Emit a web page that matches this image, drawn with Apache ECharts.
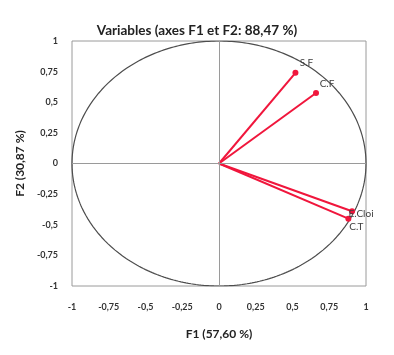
<!DOCTYPE html>
<html><head><meta charset="utf-8">
<script src="https://cdn.jsdelivr.net/npm/echarts@6/dist/echarts.min.js"></script>
<style>html,body{margin:0;padding:0;background:#fff}#c{width:394px;height:355px}</style>
</head><body><div id="c"></div>
<script>
const variables = ['S.F', 'C.F', 'E.Cloi', 'C.T'];
const f1 = [0.52, 0.66, 0.905, 0.88];
const f2 = [0.74, 0.575, -0.39, -0.45];
const ticks = [-1, -0.75, -0.5, -0.25, 0, 0.25, 0.5, 0.75, 1];
const labelOffsets = [[11, -10], [11, -9], [9, 3], [8, 8]];

const fmt = v => String(v).replace('.', ',');
const circle = [];
for (let i = 0; i <= 360; i++) { const a = i * Math.PI / 180; circle.push([Math.cos(a), Math.sin(a)]); }

const chart = echarts.init(document.getElementById('c'));
const font = 'Lato, "Open Sans", sans-serif';
const series = [{
  type: 'line', data: circle, showSymbol: false, symbol: 'none', silent: true,
  lineStyle: { color: '#4d4d4d', width: 1.2 }, z: 2,
  markLine: { silent: true, symbol: 'none', label: { show: false },
    lineStyle: { color: '#9a9a9a', width: 1, type: 'solid' },
    data: [{ xAxis: 0 }, { yAxis: 0 }] }
}];
variables.forEach((name, i) => {
  series.push({
    type: 'line', name, z: 3,
    data: [[0, 0], { value: [f1[i], f2[i]], symbol: 'circle', symbolSize: 6,
      label: { show: true, formatter: name, position: 'inside', offset: labelOffsets[i],
        color: '#404040', fontSize: 10, fontFamily: font } }],
    symbol: 'none',
    lineStyle: { color: '#f0163c', width: 2 },
    itemStyle: { color: '#f0163c' }
  });
});
chart.setOption({
  animation: false,
  title: { text: 'Variables (axes F1 et F2: 88,47 %)', left: 'center', top: 19,
    textStyle: { fontSize: 13.5, fontWeight: 'bold', color: '#222', fontFamily: font } },
  grid: { left: 72, right: 28, top: 41, bottom: 69, show: true, borderColor: '#9a9a9a', borderWidth: 1 },
  xAxis: { type: 'value', min: -1, max: 1, interval: 0.25,
    axisLine: { show: false }, axisTick: { show: false }, splitLine: { show: false },
    axisLabel: { formatter: fmt, margin: 17, fontSize: 9, fontWeight: 'bold', color: '#333', fontFamily: font },
    name: 'F1 (57,60 %)', nameLocation: 'middle', nameGap: 42,
    nameTextStyle: { fontSize: 12, fontWeight: 'bold', color: '#222', fontFamily: font } },
  yAxis: { type: 'value', min: -1, max: 1, interval: 0.25,
    axisLine: { show: false }, axisTick: { show: false }, splitLine: { show: false },
    axisLabel: { formatter: fmt, margin: 14, fontSize: 9, fontWeight: 'bold', color: '#333', fontFamily: font },
    name: 'F2 (30,87 %)', nameLocation: 'middle', nameGap: 46, nameRotate: 90,
    nameTextStyle: { fontSize: 12, fontWeight: 'bold', color: '#222', fontFamily: font } },
  series
});
</script></body></html>
